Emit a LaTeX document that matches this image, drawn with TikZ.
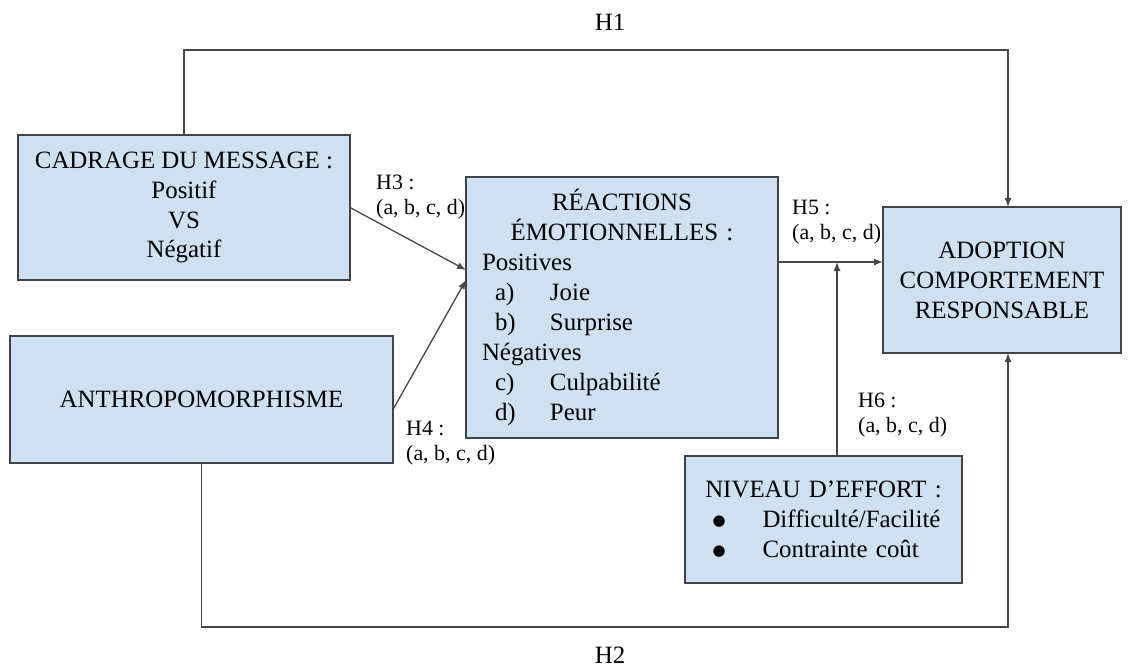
\documentclass[tikz,border=0pt]{standalone}
\usepackage{fontspec}
\setmainfont{Liberation Serif}
\newfontfamily\symfont{DejaVu Sans}
\usetikzlibrary{arrows.meta,positioning,calc}
\definecolor{cbox}{HTML}{CFE0F1}
\definecolor{cboxborder}{HTML}{3F4448}
\definecolor{cline}{HTML}{474747}
\newcommand{\emoitem}[2]{\hspace*{13bp}\makebox[55bp][l]{#1}#2}
\newcommand{\effitem}[1]{\hspace*{4bp}\makebox[50bp][l]{\raisebox{2bp}{\symfont\fontsize{15}{20}\selectfont ●}}#1}

\begin{document}
\begin{tikzpicture}[
    x=1bp, y=-1bp,
    box/.style={draw=cboxborder, fill=cbox, line width=1.4bp, outer sep=0pt, align=center,
               font=\fontsize{25}{30}\selectfont},
    hyp/.style={anchor=north west, inner sep=0pt, align=left, font=\fontsize{22}{25}\selectfont},
    hname/.style={font=\fontsize{25}{30}\selectfont},
    arr/.style={-{Latex[length=9bp,width=7bp]}, line width=1.3bp, draw=cline}
]
\useasboundingbox (0,0) rectangle (1130,670);
\node[box, minimum width=332bp, minimum height=145bp] (cadr) at (184,207.5)
    {CADRAGE DU MESSAGE :\\Positif\\VS\\Négatif};
\node[box, minimum width=383bp, minimum height=127bp] (anth) at (201.5,399.5)
    {ANTHROPOMORPHISME};
\node[box, minimum width=312bp, minimum height=261bp, text width=280bp, align=left] (reac) at (622,307.5)
    {\makebox[\linewidth]{RÉACTIONS}\\\makebox[\linewidth]{ÉMOTIONNELLES :}\\
     Positives\\\emoitem{a)}{Joie}\\\emoitem{b)}{Surprise}\\
     Négatives\\\emoitem{c)}{Culpabilité}\\\emoitem{d)}{Peur}};
\node[box, minimum width=238bp, minimum height=146bp] (adop) at (1002,280)
    {ADOPTION\\COMPORTEMENT\\RESPONSABLE};
\node[box, minimum width=277bp, minimum height=127bp, text width=230bp, align=left] (effort) at (823.5,519.5)
    {\makebox[\linewidth]{NIVEAU D’EFFORT :}\\\effitem{Difficulté/Facilité}\\\effitem{Contrainte coût}};

% hypotheses
\node[hname] (h1) at (610,22) {H1};
\node[hname] (h2) at (610,655) {H2};
\node[hyp] (h3) at (376,175) {H3 :\\(a, b, c, d)};
\node[hyp] (h4) at (406,421) {H4 :\\(a, b, c, d)};
\node[hyp] (h5) at (792,200) {H5 :\\(a, b, c, d)};
\node[hyp] (h6) at (858,393) {H6 :\\(a, b, c, d)};

\coordinate (h1r) at (1008,50);
\coordinate (h2r) at (1008,627);
\coordinate (mod) at (837,262);

\draw[arr] (cadr.north) |- (h1r) -- (h1r |- adop.north);
\draw[arr] (anth.south) |- (h2r) -- (h2r |- adop.south);
\draw[arr] (cadr.east) -- ([yshift=37.5bp]reac.west);
\draw[arr] ([yshift=-10bp]anth.east) -- ([yshift=27.5bp]reac.west);
\draw[arr] (reac.east |- mod) -- (adop.west |- mod);
\draw[arr] (mod |- effort.north) -- (mod);
\end{tikzpicture}
\end{document}
